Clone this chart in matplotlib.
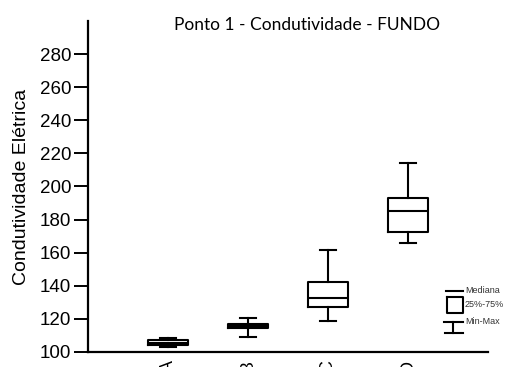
import matplotlib
matplotlib.use("Agg")
from matplotlib import pyplot as plt

# Data (approx.)
categories = ["A", "B", "C", "D"]
mins = [103.0, 109.0, 118.9, 166.0]
q1s = [104.0, 114.2, 127.0, 172.7]
medians = [105.5, 115.5, 132.4, 185.0]
q3s = [107.2, 116.8, 142.5, 192.8]
maxs = [108.6, 120.3, 161.6, 214.0]

stats = []
for i in range(len(categories)):
    stats.append(dict(label=categories[i], whislo=mins[i], q1=q1s[i], med=medians[i],
                      q3=q3s[i], whishi=maxs[i]))

plt.rcParams['font.family'] = ['Liberation Sans', 'DejaVu Sans']

fig = plt.figure(figsize=(5.07, 3.67), dpi=100)
ax = fig.add_axes([0.1736, 0.0409, 0.789, 0.902])

lp = dict(color='black', linewidth=1.5)
ax.bxp(stats, positions=range(1, len(categories) + 1), widths=0.5, capwidths=0.19,
       showfliers=False, boxprops=lp, whiskerprops=lp, capprops=lp, medianprops=lp)

ax.set_xlim(0, 5)
ax.set_ylim(100, 300)
ax.set_yticks(range(100, 281, 20))
ax.set_xticks(range(1, len(categories) + 1))
ax.set_xticklabels(categories, rotation=90, fontsize=13)
ax.tick_params(axis='x', length=0, pad=6)
ax.tick_params(axis='y', labelsize=13.5, length=10, width=1.4, pad=2)
for s in ['top', 'right']:
    ax.spines[s].set_visible(False)
for s in ['left', 'bottom']:
    ax.spines[s].set_linewidth(1.6)

ax.set_ylabel('Condutividade Elétrica', fontsize=14, labelpad=7)
ax.set_title('Ponto 1 - Condutividade - FUNDO', fontsize=12.5, family=['Lato', 'DejaVu Sans'],
             pad=0, x=0.5475, y=0.973)

# small hand-drawn legend (box-plot key)
def fx(px):
    return (px - 88) / 400.0

def fy(py):
    return (352 - py) / 331.0

T = ax.transAxes
kw = dict(color='black', linewidth=1.5, transform=T, clip_on=False)
ax.plot([fx(446), fx(463)], [fy(291), fy(291)], **kw)
ax.plot([fx(447), fx(463), fx(463), fx(447), fx(447)],
        [fy(297), fy(297), fy(313), fy(313), fy(297)], **kw)
ax.plot([fx(444), fx(463)], [fy(322), fy(322)], **kw)
ax.plot([fx(445), fx(463)], [fy(333), fy(333)], **kw)
ax.plot([fx(453), fx(453)], [fy(322), fy(333)], **kw)
tk = dict(fontsize=6.5, transform=T, va='center', ha='left', color='#333333')
ax.text(fx(465), fy(291), 'Mediana', **tk)
ax.text(fx(465), fy(305), '25%-75%', **tk)
ax.text(fx(465), fy(322), 'Min-Max', **tk)

fig.savefig('out.png', dpi=100)
